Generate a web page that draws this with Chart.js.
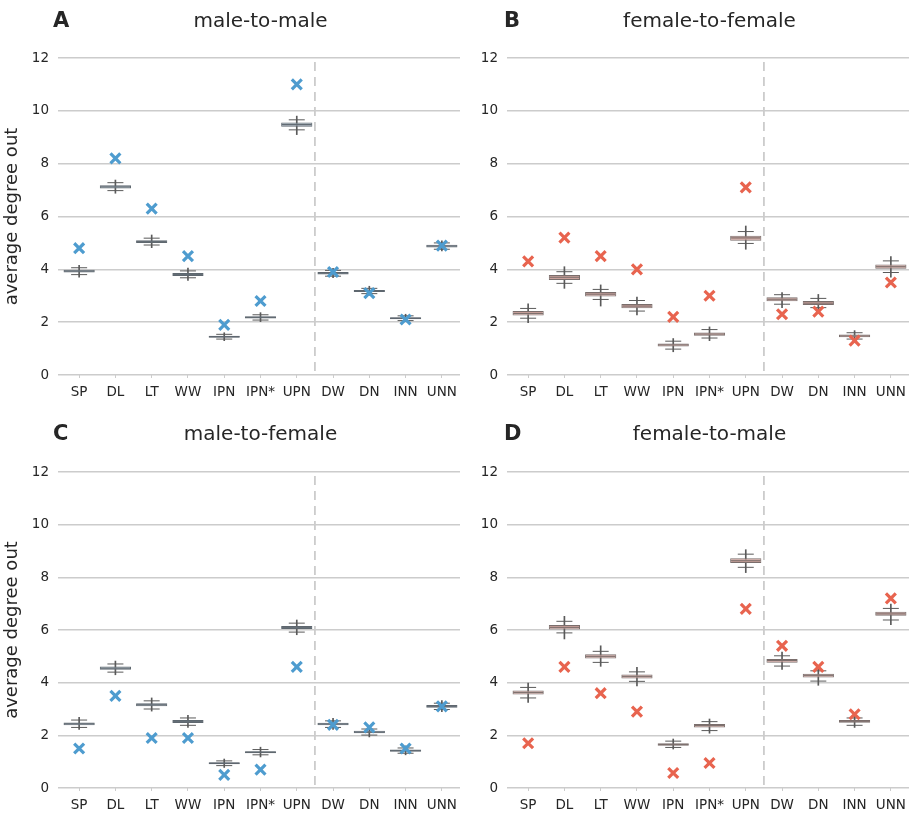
<!DOCTYPE html>
<html>
<head>
<meta charset="utf-8">
<script src="https://cdn.jsdelivr.net/npm/chart.js@4.4.0/dist/chart.umd.min.js"></script>
<style>
  body { margin: 0; background: #ffffff; overflow: hidden; font-family: "DejaVu Sans", sans-serif; color: #262626; }
  #wrap { position: relative; width: 909px; height: 817px; }
  canvas { position: absolute; }
  .letter { position: absolute; font-weight: bold; font-size: 21px; line-height: 24px; }
  .ptitle { position: absolute; font-size: 20px; line-height: 24px; text-align: center; }
</style>
</head>
<body>
<div id="wrap">
  <canvas id="mm" width="460" height="412" style="left:0px;top:0px"></canvas>
  <canvas id="ff" width="460" height="412" style="left:449px;top:0px"></canvas>
  <canvas id="mf" width="460" height="404" style="left:0px;top:413px"></canvas>
  <canvas id="fm" width="460" height="404" style="left:449px;top:413px"></canvas>

  <div class="letter" style="left:53px;top:8px">A</div>
  <div class="ptitle" style="left:61px;top:8px;width:399px">male-to-male</div>
  <div class="letter" style="left:504px;top:8px">B</div>
  <div class="ptitle" style="left:510px;top:8px;width:399px">female-to-female</div>
  <div class="letter" style="left:53px;top:421px">C</div>
  <div class="ptitle" style="left:61px;top:421px;width:399px">male-to-female</div>
  <div class="letter" style="left:504px;top:421px">D</div>
  <div class="ptitle" style="left:510px;top:421px;width:399px">female-to-male</div>
</div>

<script>
const categories = ["SP", "DL", "LT", "WW", "IPN", "IPN*", "UPN", "DW", "DN", "INN", "UNN"];
const yTicks = [0, 2, 4, 6, 8, 10, 12];

// each row: [low, capLow, q1, median, q3, capHigh, high]
const mmBoxes = [
  [3.70, 3.80, 3.88, 3.93, 3.98, 4.06, 4.15],
  [6.88, 6.98, 7.06, 7.12, 7.18, 7.28, 7.38],
  [4.82, 4.92, 5.00, 5.05, 5.10, 5.18, 5.30],
  [3.58, 3.68, 3.75, 3.80, 3.86, 3.94, 4.05],
  [1.30, 1.36, 1.41, 1.45, 1.49, 1.54, 1.60],
  [2.02, 2.08, 2.14, 2.18, 2.22, 2.28, 2.36],
  [9.10, 9.28, 9.40, 9.48, 9.56, 9.66, 9.80],
  [3.68, 3.74, 3.80, 3.85, 3.90, 3.96, 4.04],
  [3.02, 3.08, 3.14, 3.18, 3.22, 3.28, 3.36],
  [2.02, 2.06, 2.11, 2.15, 2.19, 2.24, 2.30],
  [4.70, 4.76, 4.83, 4.88, 4.93, 5.00, 5.08]
];
const mmObserved = [4.8, 8.2, 6.3, 4.5, 1.9, 2.8, 11.0, 3.9, 3.1, 2.1, 4.9];

const ffBoxes = [
  [1.98, 2.15, 2.25, 2.33, 2.42, 2.52, 2.69],
  [3.28, 3.47, 3.60, 3.70, 3.79, 3.91, 4.10],
  [2.61, 2.86, 2.97, 3.06, 3.14, 3.24, 3.41],
  [2.27, 2.42, 2.53, 2.61, 2.69, 2.82, 2.95],
  [0.88, 0.98, 1.08, 1.14, 1.19, 1.28, 1.38],
  [1.30, 1.40, 1.49, 1.55, 1.61, 1.72, 1.82],
  [4.76, 4.98, 5.08, 5.19, 5.27, 5.43, 5.64],
  [2.55, 2.68, 2.79, 2.87, 2.94, 3.04, 3.12],
  [2.40, 2.55, 2.65, 2.72, 2.80, 2.90, 3.05],
  [1.30, 1.36, 1.43, 1.48, 1.53, 1.60, 1.68],
  [3.70, 3.88, 4.02, 4.10, 4.18, 4.32, 4.48]
];
const ffObserved = [4.3, 5.2, 4.5, 4.0, 2.2, 3.0, 7.1, 2.3, 2.4, 1.3, 3.5];

const mfBoxes = [
  [2.22, 2.30, 2.38, 2.44, 2.49, 2.58, 2.68],
  [4.30, 4.40, 4.49, 4.55, 4.61, 4.71, 4.82],
  [2.92, 3.00, 3.10, 3.16, 3.22, 3.31, 3.42],
  [2.30, 2.38, 2.47, 2.53, 2.58, 2.66, 2.76],
  [0.78, 0.85, 0.90, 0.94, 0.98, 1.03, 1.10],
  [1.18, 1.26, 1.32, 1.36, 1.40, 1.46, 1.55],
  [5.82, 5.92, 6.04, 6.10, 6.15, 6.26, 6.38],
  [2.22, 2.30, 2.38, 2.43, 2.48, 2.55, 2.65],
  [1.94, 2.01, 2.08, 2.12, 2.17, 2.24, 2.32],
  [1.26, 1.32, 1.38, 1.42, 1.46, 1.52, 1.60],
  [2.90, 2.98, 3.05, 3.10, 3.15, 3.22, 3.32]
];
const mfObserved = [1.5, 3.5, 1.9, 1.9, 0.5, 0.7, 4.6, 2.4, 2.3, 1.5, 3.1];

const fmBoxes = [
  [3.25, 3.42, 3.55, 3.63, 3.70, 3.82, 3.98],
  [5.66, 5.89, 6.02, 6.10, 6.19, 6.33, 6.52],
  [4.62, 4.77, 4.92, 5.00, 5.08, 5.19, 5.40],
  [3.88, 4.05, 4.16, 4.24, 4.31, 4.41, 4.58],
  [1.48, 1.54, 1.60, 1.65, 1.70, 1.78, 1.86],
  [2.08, 2.18, 2.30, 2.37, 2.43, 2.52, 2.62],
  [8.18, 8.38, 8.54, 8.63, 8.72, 8.88, 9.05],
  [4.50, 4.63, 4.76, 4.84, 4.90, 5.02, 5.16],
  [3.90, 4.06, 4.20, 4.28, 4.34, 4.45, 4.60],
  [2.30, 2.38, 2.48, 2.53, 2.58, 2.66, 2.76],
  [6.20, 6.38, 6.54, 6.61, 6.69, 6.82, 6.98]
];
const fmObserved = [1.7, 4.6, 3.6, 2.9, 0.57, 0.95, 6.8, 5.4, 4.6, 2.8, 7.2];

const BLUE = "#4e9ccf";
const RED = "#e8644f";
const TEXT = "#262626";
const GRID = "#cccccc";
const WHISKER = "#5a5a5a";

Chart.defaults.font.family = "'DejaVu Sans', sans-serif";
Chart.defaults.color = TEXT;

// dashed separator between UPN and DW
const separator = {
  id: "separator",
  beforeDatasetsDraw(chart) {
    const x = chart.scales.x.getPixelForValue(6.5);
    const area = chart.chartArea;
    const ctx = chart.ctx;
    ctx.save();
    ctx.strokeStyle = GRID;
    ctx.lineWidth = 1.8;
    ctx.setLineDash([9, 6]);
    ctx.beginPath();
    ctx.moveTo(x, area.top + 4);
    ctx.lineTo(x, area.bottom);
    ctx.stroke();
    ctx.restore();
  }
};

function makePanel(id, boxes, observed, markColor, boxFill, boxEdge, opts) {
  new Chart(document.getElementById(id), {
    type: "bar",
    data: {
      labels: categories,
      datasets: [
        {
          type: "line",
          data: observed,
          showLine: false,
          pointStyle: "crossRot",
          pointRadius: 7,
          pointBorderWidth: 3.2,
          pointBorderColor: markColor,
          pointBackgroundColor: markColor,
          order: 0
        },
        {
          type: "line",
          data: boxes.map((r) => r[3]),
          showLine: false,
          pointStyle: "line",
          pointRadius: 15,
          pointBorderWidth: 1,
          pointBorderColor: boxEdge,
          order: 1
        },
        {
          data: boxes.map((r) => [r[2], r[4]]),
          backgroundColor: boxFill,
          borderColor: boxEdge,
          borderWidth: 1,
          borderSkipped: false,
          barPercentage: 0.86,
          categoryPercentage: 1,
          grouped: false,
          order: 2
        },
        {
          type: "line",
          data: boxes.map((r) => r[1]),
          showLine: false,
          pointStyle: "line",
          pointRadius: 8,
          pointBorderWidth: 1,
          pointBorderColor: WHISKER,
          order: 3
        },
        {
          type: "line",
          data: boxes.map((r) => r[5]),
          showLine: false,
          pointStyle: "line",
          pointRadius: 8,
          pointBorderWidth: 1,
          pointBorderColor: WHISKER,
          order: 3
        },
        {
          data: boxes.map((r) => [r[0], r[6]]),
          backgroundColor: WHISKER,
          barThickness: 1,
          grouped: false,
          order: 4
        }
      ]
    },
    options: {
      responsive: false,
      animation: false,
      events: [],
      layout: { autoPadding: false, padding: { top: opts.padTop, left: 0, right: 0, bottom: 0 } },
      plugins: {
        legend: { display: false },
        tooltip: { enabled: false },
        title: { display: false }
      },
      scales: {
        x: {
          offset: true,
          afterFit: (s) => { s.height = opts.xHeight; s.paddingLeft = 0; s.paddingRight = 0; },
          grid: { display: true, drawOnChartArea: false, offset: false, tickLength: 3, color: GRID, lineWidth: 1 },
          border: { display: false },
          ticks: { font: { size: 13.5 }, color: TEXT, padding: 6, maxRotation: 0, autoSkip: false }
        },
        y: {
          min: 0,
          max: 12,
          afterFit: (s) => { s.width = 61; s.paddingTop = 0; s.paddingBottom = 0; },
          afterBuildTicks: (s) => { s.ticks = yTicks.map((v) => ({ value: v })); },
          grid: { color: GRID, lineWidth: 1.5, tickLength: 3 },
          border: { display: false },
          ticks: { font: { size: 13.5 }, color: TEXT, padding: 9 },
          title: {
            display: opts.yTitle,
            text: "average degree out",
            font: { size: 18 },
            color: TEXT,
            padding: { top: 2, bottom: 0 }
          }
        }
      }
    },
    plugins: [separator]
  });
}

makePanel("mm", mmBoxes, mmObserved, BLUE, "#8c99a3", "#5f6870", { padTop: 58, xHeight: 37, yTitle: true });
makePanel("ff", ffBoxes, ffObserved, RED, "#c9a19b", "#7a6e6c", { padTop: 58, xHeight: 37, yTitle: false });
makePanel("mf", mfBoxes, mfObserved, BLUE, "#8c99a3", "#5f6870", { padTop: 59, xHeight: 29, yTitle: true });
makePanel("fm", fmBoxes, fmObserved, RED, "#c9a19b", "#7a6e6c", { padTop: 59, xHeight: 29, yTitle: false });
</script>
</body>
</html>
